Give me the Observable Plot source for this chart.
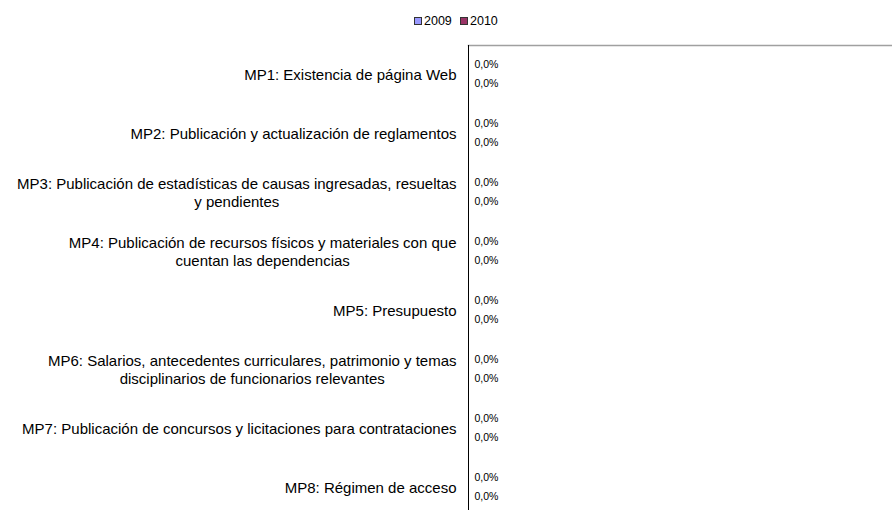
<!DOCTYPE html>
<html>
<head>
<meta charset="utf-8">
<script src="https://cdn.jsdelivr.net/npm/d3@7"></script>
<script src="https://cdn.jsdelivr.net/npm/@observablehq/plot@0.6"></script>
<style>
  html, body { margin: 0; padding: 0; background: #fff; overflow: hidden; }
  body { width: 892px; height: 510px; font-family: "Liberation Sans", Arial, sans-serif; }
  #legend { position: relative; height: 43px; width: 892px; font-size: 12.5px; color: #000; }
  #legend .item { position: absolute; top: 13px; display: flex; align-items: center; height: 15px; }
  #legend .sw { width: 6px; height: 6px; border: 1px solid #333; margin-right: 2px; }
</style>
</head>
<body>
<div id="legend"></div>
<div id="chart"></div>
<script>
const categories = ["MP1", "MP2", "MP3", "MP4", "MP5", "MP6", "MP7", "MP8"];
const categoryLabels = [
  "MP1: Existencia de página Web",
  "MP2: Publicación y actualización de reglamentos",
  "MP3: Publicación de estadísticas de causas ingresadas, resueltas\ny pendientes",
  "MP4: Publicación de recursos físicos y materiales con que\ncuentan las dependencias",
  "MP5: Presupuesto",
  "MP6: Salarios, antecedentes curriculares, patrimonio y temas\ndisciplinarios de funcionarios relevantes",
  "MP7: Publicación de concursos y licitaciones para contrataciones",
  "MP8: Régimen de acceso"
];
const seriesNames = ["2009", "2010"];
const values2009 = [0, 0, 0, 0, 0, 0, 0, 0];
const values2010 = [0, 0, 0, 0, 0, 0, 0, 0];
const seriesColors = ["#9999FF", "#993366"];

const data = [];
categories.forEach((c, i) => {
  data.push({category: c, series: "2009", value: values2009[i]});
  data.push({category: c, series: "2010", value: values2010[i]});
});
const fmt = v => v.toFixed(1).replace(".", ",") + "%";

// legend
const legend = document.getElementById("legend");
const legendX = [414, 460];
seriesNames.forEach((s, i) => {
  const it = document.createElement("div");
  it.className = "item";
  it.style.left = legendX[i] + "px";
  it.innerHTML = `<span class="sw" style="background:${seriesColors[i]}"></span><span>${s}</span>`;
  legend.appendChild(it);
});

// measure label widths
const labelSize = 15;
const cv = document.createElement("canvas").getContext("2d");
cv.font = `${labelSize}px 'Liberation Sans', Arial, sans-serif`;
const labelWidths = categoryLabels.map(l => d3.max(l.split("\n"), s => cv.measureText(s).width));

const labelMarks = categories.map((c, i) =>
  Plot.text([c], {
    fy: d => d,
    frameAnchor: "left",
    textAnchor: "middle",
    dx: -12 - labelWidths[i] / 2,
    dy: -0.5,
    text: () => categoryLabels[i],
    fontSize: labelSize,
    lineHeight: 1.15,
    fill: "#000"
  })
);

const chart = Plot.plot({
  width: 892,
  height: 476,
  marginLeft: 468,
  marginRight: 0,
  marginTop: 0,
  marginBottom: 0,
  style: {fontFamily: "'Liberation Sans', Arial, sans-serif", background: "#fff", overflow: "visible"},
  fy: {domain: categories, padding: 0, axis: null, label: null},
  y: {domain: seriesNames, paddingInner: 0.1, paddingOuter: 0.54, axis: null, label: null},
  x: {domain: [0, 100], axis: null},
  color: {domain: seriesNames, range: seriesColors},
  marks: [
    Plot.barX(data, {x: "value", y: "series", fy: "category", fill: "series"}),
    Plot.text(data, {x: "value", y: "series", fy: "category", text: d => fmt(d.value), dx: 6, textAnchor: "start", fontSize: 10.5, fill: "#000"}),
    Plot.frame({anchor: "top", facetAnchor: "top", stroke: "#a0a0a0", strokeWidth: 1.5}),
    Plot.ruleX([0], {stroke: "#000", strokeWidth: 1}),
    ...labelMarks
  ]
});
document.getElementById("chart").appendChild(chart);
</script>
</body>
</html>
